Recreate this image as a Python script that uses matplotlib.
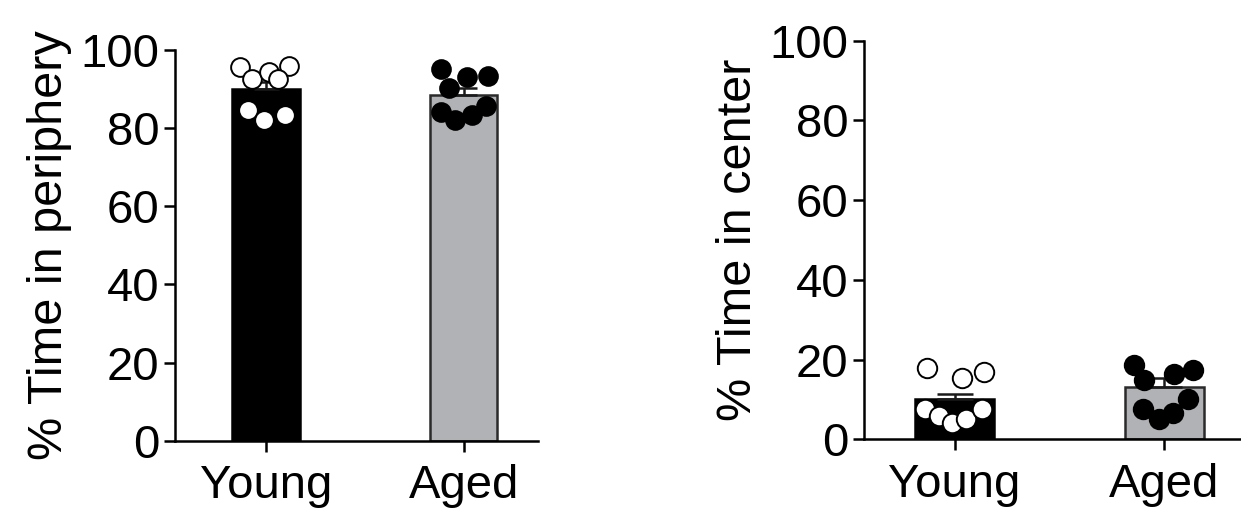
import numpy as np
import matplotlib
matplotlib.use("Agg")
import matplotlib.pyplot as plt

plt.rcParams['font.family'] = ['Liberation Sans', 'DejaVu Sans']

groups = ['Young', 'Aged']
bar_colors = ['#000000', '#b1b2b6']
point_faces = ['white', 'black']

# periphery
periph_mean = [90.1, 88.5]
periph_sem = [1.7, 1.7]
periph_young = [95.6, 92.7, 94.3, 95.9, 92.5, 84.6, 82.0, 83.4]
periph_aged = [95.1, 93.2, 93.3, 90.4, 84.2, 82.1, 83.4, 85.7]
periph_jit_young = [-0.132, -0.068, 0.017, 0.115, 0.059, -0.090, -0.012, 0.096]
periph_jit_aged = [-0.117, 0.019, 0.125, -0.074, -0.117, -0.044, 0.044, 0.115]

# center
center_mean = [10.2, 13.2]
center_sem = [1.1, 2.3]
center_young = [17.8, 15.5, 17.0, 7.5, 5.8, 4.1, 5.0, 7.5]
center_aged = [18.6, 14.8, 16.5, 17.3, 7.5, 5.0, 6.7, 10.0]
center_jit_young = [-0.129, 0.037, 0.140, -0.140, -0.074, -0.010, 0.056, 0.133]
center_jit_aged = [-0.143, -0.095, 0.048, 0.135, -0.103, -0.027, 0.040, 0.111]


def panel(ax, means, sems, pts, jits, ylabel, width, capsize, xlim, msize):
    x = np.arange(len(groups))
    ax.bar(x, means, width=width, color=bar_colors,
           edgecolor=['black', '#2a2a2a'], linewidth=1.8, zorder=1)
    for i in range(len(groups)):
        ax.errorbar(x[i], means[i], yerr=[[0], [sems[i]]], fmt='none',
                    ecolor='#1a1a1a', elinewidth=1.8, capsize=capsize,
                    capthick=1.8, zorder=2)
        ax.plot(x[i] + np.array(jits[i]), pts[i], 'o', ms=msize,
                mfc=point_faces[i], mec='black', mew=1.4, zorder=3,
                clip_on=False)
    ax.set_xlim(*xlim)
    ax.set_ylim(0, 100)
    ax.set_yticks([0, 20, 40, 60, 80, 100])
    ax.set_xticks(x)
    ax.set_xticklabels(groups)
    ax.spines['top'].set_visible(False)
    ax.spines['right'].set_visible(False)
    for s in ['left', 'bottom']:
        ax.spines[s].set_linewidth(1.8)
    ax.tick_params(axis='both', labelsize=34, width=1.8, length=8, pad=3)
    ax.tick_params(axis='x', pad=9)
    ax.set_ylabel(ylabel, fontsize=35, labelpad=6)


fig = plt.figure(figsize=(12.41, 5.14), dpi=100)
ax1 = fig.add_axes([0.141, 0.1426, 0.2925, 0.760])
ax2 = fig.add_axes([0.696, 0.1453, 0.3030, 0.7755])

panel(ax1, periph_mean, periph_sem, [periph_young, periph_aged],
      [periph_jit_young, periph_jit_aged], '% Time in periphery',
      0.34, 9, (-0.46, 1.376), 13.5)
panel(ax2, center_mean, center_sem, [center_young, center_aged],
      [center_jit_young, center_jit_aged], '% Time in center',
      0.376, 13, (-0.433, 1.36), 14)

fig.savefig('out.png', dpi=100)
